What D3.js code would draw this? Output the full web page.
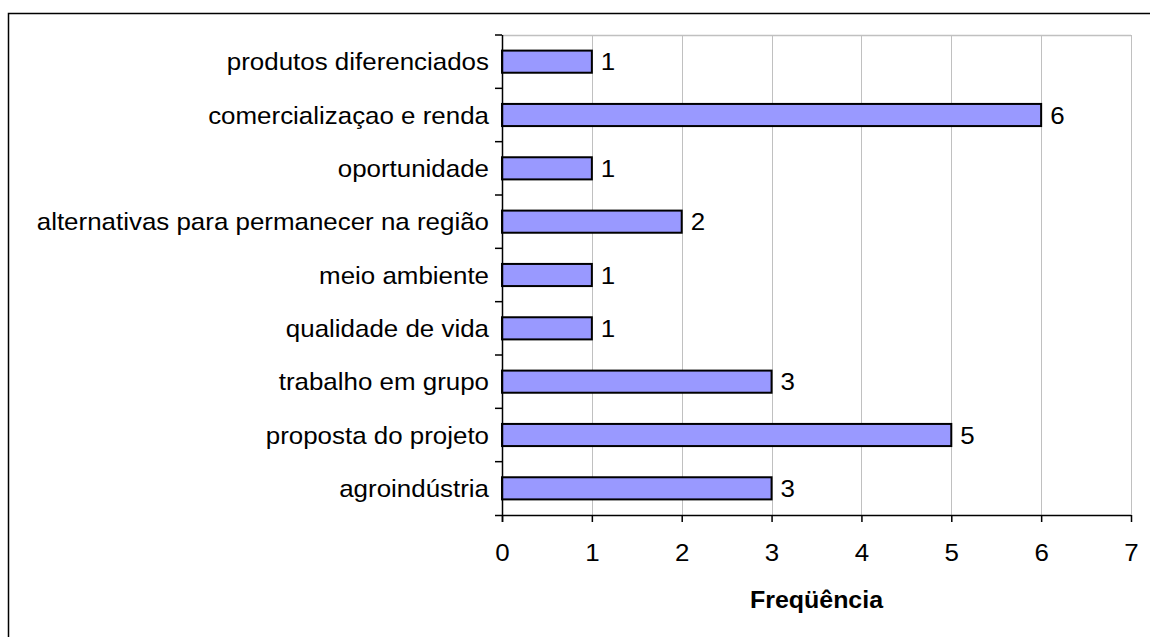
<!DOCTYPE html>
<html>
<head>
<meta charset="utf-8">
<script src="https://cdn.jsdelivr.net/npm/d3@7"></script>
<style>
  body { margin: 0; background: #fff; }
  text { font-family: "Liberation Sans", Arial, sans-serif; }
</style>
</head>
<body>
<svg id="chart" width="1150" height="637"></svg>
<script>
// data, top to bottom as drawn
var categories = ["produtos diferenciados", "comercializaçao e renda", "oportunidade",
  "alternativas para permanecer na região", "meio ambiente ", "qualidade de vida",
  "trabalho em grupo", "proposta do projeto", "agroindústria"];
var values = [1, 6, 1, 2, 1, 1, 3, 5, 3];
var xTicks = [0, 1, 2, 3, 4, 5, 6, 7];
var xTitle = "Freqüência";

var fontSize = 24;
var stretch = 1.08; // the original text is a little wider than Liberation Sans

var margin = {top: 35, right: 18, bottom: 122, left: 502},
    width = 1131 - margin.left,
    height = 515 - margin.top;

var svg = d3.select("#chart");

// outer frame (only top and left visible in the crop)
svg.append("rect")
    .attr("x", 8.5).attr("y", 13.5)
    .attr("width", 1160).attr("height", 660)
    .attr("fill", "none")
    .attr("stroke", "#000")
    .attr("stroke-width", 1.5);

var g = svg.append("g")
    .attr("transform", "translate(" + margin.left + "," + margin.top + ")");

var x = d3.scaleLinear().domain([0, 7]).range([0, width]);
var y = d3.scaleBand().domain(categories).range([0, height]).paddingInner(0.585).paddingOuter(0.2925);

// grid lines
g.selectAll(".grid")
    .data(xTicks.slice(1))
  .enter().append("line")
    .attr("x1", function(d) { return Math.round(x(d)) + 0.5; })
    .attr("x2", function(d) { return Math.round(x(d)) + 0.5; })
    .attr("y1", 0).attr("y2", height)
    .attr("stroke", "#c0c0c0")
    .attr("stroke-width", 1);

// plot area top border
g.append("line")
    .attr("x1", 0).attr("x2", width)
    .attr("y1", 0.5).attr("y2", 0.5)
    .attr("stroke", "#c0c0c0")
    .attr("stroke-width", 1.5);

// bars
g.selectAll(".bar")
    .data(values)
  .enter().append("rect")
    .attr("x", x(0))
    .attr("y", function(d, i) { return y(categories[i]); })
    .attr("width", function(d) { return x(d) - x(0); })
    .attr("height", y.bandwidth())
    .attr("fill", "#9999ff")
    .attr("stroke", "#000")
    .attr("stroke-width", 2);

// value labels
g.selectAll(".val")
    .data(values)
  .enter().append("text")
    .attr("transform", function(d, i) {
      return "translate(" + (x(d) + 9) + "," + (y(categories[i]) + y.bandwidth() / 2) + ") scale(" + stretch + ",1)";
    })
    .attr("dy", "0.36em")
    .attr("font-size", fontSize)
    .text(function(d) { return d; });

// x axis
var xAxis = g.append("g")
    .attr("transform", "translate(0," + height + ")")
    .call(d3.axisBottom(x).tickValues(xTicks).tickSize(7).tickPadding(22).tickFormat(d3.format("d")));
xAxis.attr("font-size", fontSize).attr("font-family", null);
xAxis.select(".domain").attr("stroke", "#000").attr("stroke-width", 1.5)
    .attr("d", "M-7,0.5H" + width);
xAxis.selectAll(".tick line").attr("stroke", "#000").attr("stroke-width", 1.5);
xAxis.selectAll("text").attr("fill", "#000")
    .attr("transform", "scale(" + stretch + ",1)");

// y axis with ticks at band boundaries
var yAxis = g.append("g");
yAxis.append("line")
    .attr("x1", 0.5).attr("x2", 0.5)
    .attr("y1", 0).attr("y2", height + 7)
    .attr("stroke", "#000").attr("stroke-width", 1.5);
var step = height / categories.length;
yAxis.selectAll(".ytick")
    .data(d3.range(categories.length))
  .enter().append("line")
    .attr("x1", -7).attr("x2", 0)
    .attr("y1", function(i) { return i * step; })
    .attr("y2", function(i) { return i * step; })
    .attr("stroke", "#000").attr("stroke-width", 1.5);
yAxis.selectAll(".ylab")
    .data(categories)
  .enter().append("text")
    .attr("transform", function(d) {
      return "translate(-13," + (y(d) + y.bandwidth() / 2) + ") scale(" + stretch + ",1)";
    })
    .attr("dy", "0.36em")
    .attr("text-anchor", "end")
    .attr("font-size", fontSize)
    .text(function(d) { return d; });

// axis title
g.append("text")
    .attr("transform", "translate(" + x(3.5) + "," + (height + 93) + ") scale(1.04,1)")
    .attr("text-anchor", "middle")
    .attr("font-size", fontSize)
    .attr("font-weight", "bold")
    .text(xTitle);
</script>
</body>
</html>
